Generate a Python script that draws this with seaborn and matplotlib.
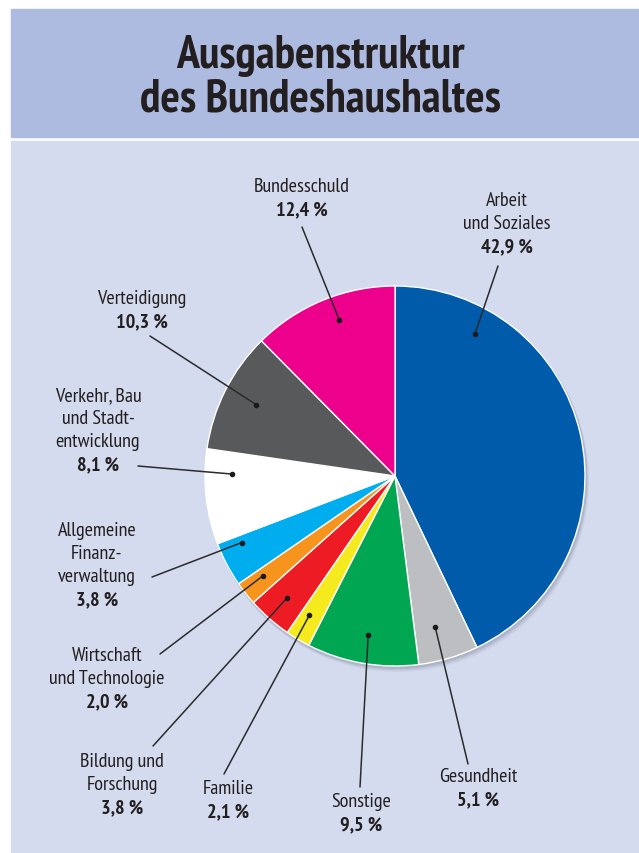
import matplotlib
matplotlib.use("Agg")
import numpy as np
import matplotlib.pyplot as plt
import seaborn as sns
from matplotlib.patches import Rectangle, Circle

# Data (clockwise from 12 o'clock)
categories = [
    "Arbeit\nund Soziales", "Gesundheit", "Sonstige", "Familie",
    "Bildung und\nForschung", "Wirtschaft\nund Technologie",
    "Allgemeine\nFinanz-\nverwaltung", "Verkehr, Bau\nund Stadt-\nentwicklung",
    "Verteidigung", "Bundesschuld",
]
shares = [42.9, 5.1, 9.5, 2.1, 3.8, 2.0, 3.8, 8.1, 10.3, 12.4]
pct_labels = ["42,9 %", "5,1 %", "9,5 %", "2,1 %", "3,8 %", "2,0 %",
              "3,8 %", "8,1 %", "10,3 %", "12,4 %"]
title_lines = ["Ausgabenstruktur", "des Bundeshaushaltes"]

slice_colors = ["#005BAA", "#BDBEC1", "#00A651", "#F5EA1E", "#ED1C24",
                "#F7941D", "#00AEEF", "#FFFFFF", "#58595B", "#EC008C"]

# Layout (pixel coords, y from top)
W, H = 639, 854
CENTER = (395, 477)
RADIUS = 190
label_xy = [(507, 247), (478, 800), (361, 825), (228, 812), (122, 808),
            (107, 702), (97, 600), (98, 465), (142, 322), (302, 210)]
leader_start = [(498, 267), (468, 765), (360, 788), (224, 775), (153, 747),
                (160, 655), (152, 578), (138, 467), (150, 337), (302, 228)]
dot_angle_frac = [0.19, 0.58, 0.49, 0.61, 0.51, 0.65, 0.81, 0.74, 0.51, 0.56]
dot_radius_frac = [0.86, 0.82, 0.85, 0.86, 0.86, 0.87, 0.88, 0.86, 0.82, 0.87]

HEADER_BG = "#AEBBE1"
BODY_BG = "#D4DBEE"
TEXT = "#231F20"
LINE_STEP = 23

sns.set_theme(style="white")
plt.rcParams["font.family"] = ["PT Sans Narrow", "DejaVu Sans"]


def Y(y):
    return H - y


fig = plt.figure(figsize=(W / 100, H / 100), dpi=100)
ax = fig.add_axes([0, 0, 1, 1])

# backgrounds
ax.add_patch(Rectangle((11, Y(138)), W - 11, 128, color=HEADER_BG, zorder=0))
ax.add_patch(Rectangle((11, 0), W - 11, Y(142), color=BODY_BG, zorder=0))

# soft shadow under the pie
cx, cy = CENTER[0], Y(CENTER[1])
for off, alpha in [(5, 0.08), (3.5, 0.12), (2, 0.18)]:
    ax.add_patch(Circle((cx + off * 0.6, cy - off), RADIUS + 1,
                        color="#6a6f80", alpha=alpha, lw=0, zorder=1))

wedges, _ = ax.pie(
    shares, colors=slice_colors, startangle=90, counterclock=False,
    center=(cx, cy), radius=RADIUS, frame=False,
    wedgeprops=dict(edgecolor="white", linewidth=1.0, zorder=2),
)

# labels + leader lines
cum = np.concatenate([[0], np.cumsum(shares)])
for i, name in enumerate(categories):
    a0 = 90 - cum[i] * 3.6
    a1 = 90 - cum[i + 1] * 3.6
    ang = np.deg2rad(a0 + dot_angle_frac[i] * (a1 - a0))
    r = RADIUS * dot_radius_frac[i]
    dx, dy = cx + r * np.cos(ang), cy + r * np.sin(ang)
    sx, sy = leader_start[i]
    ax.plot([sx, dx], [Y(sy), dy], color="#2b2b2b", lw=1.1, zorder=4,
            solid_capstyle="round")
    ax.plot(dx, dy, "o", color="#1a1a1a", ms=3, zorder=5)

    lx, ly = label_xy[i]
    lines = name.split("\n")
    for j, line in enumerate(lines):
        ax.text(lx, Y(ly - (len(lines) - j) * LINE_STEP), line,
                ha="center", va="center", fontsize=14.5, color=TEXT, zorder=6)
    ax.text(lx, Y(ly), pct_labels[i], ha="center", va="center",
            fontsize=14.5, fontweight="bold", color=TEXT, zorder=6)

# title
for k, t in enumerate(title_lines):
    ax.text(320, Y(56 + k * 43), t, ha="center", va="center",
            fontsize=33, fontweight="bold", color=TEXT, zorder=6)

ax.set_xlim(0, W)
ax.set_ylim(0, H)
ax.set_aspect("auto")
ax.axis("off")

fig.savefig("out.png", dpi=100, facecolor="white")
